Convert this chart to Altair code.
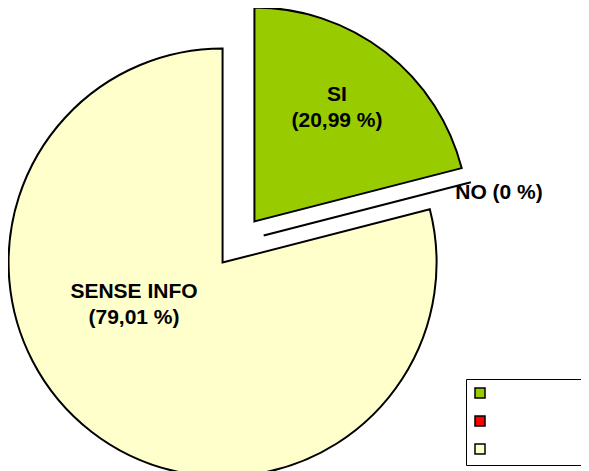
import math
import altair as alt
import pandas as pd

# ---- data ----
categories = ["SI", "NO", "SENSE INFO"]
percent = [20.99, 0.0, 79.01]
pct_text = ["(20,99 %)", "(0 %)", "(79,01 %)"]
colors = ["#99CC00", "#FF0000", "#FFFFCC"]

# ---- layout / style constants ----
W, H = 573, 463            # plot area (px)
RADIUS = 214               # pie radius (px)
CX, CY = 230.5, 234.0      # un-exploded pie centre inside the plot area (px)
EXPLODE = 26 / 214         # explosion as a fraction of the radius
# label anchor (centre of first line) relative to the pie centre, in radii (x right, y up)
label_place = {
    "SI": (0.4603, 0.6855, "\n"),
    "NO": (1.2173, 0.2276, "  "),
    "SENSE INFO": (-0.4883, -0.2322, "\n"),
}

# scale domains expressed in "radius units" so the centre lands at (CX, CY)
x_dom = [-CX / RADIUS, (W - CX) / RADIUS]
y_dom = [-(H - CY) / RADIUS, CY / RADIUS]

rows = []
acc = 0.0
total = sum(percent)
for cat, v, pt in zip(categories, percent, pct_text):
    start = acc / total * 2 * math.pi
    acc += v
    end = acc / total * 2 * math.pi
    mid = (start + end) / 2
    lx, ly, sep = label_place[cat]
    rows.append({
        "cat": cat,
        "value": v,
        "start": start,
        "end": end,
        "cx": EXPLODE * math.sin(mid),
        "cy": EXPLODE * math.cos(mid),
        "lx": lx,
        "ly": ly,
        "label": cat + sep + pt,
    })
df = pd.DataFrame(rows)

xs = alt.Scale(domain=x_dom, nice=False, zero=False)
ys = alt.Scale(domain=y_dom, nice=False, zero=False)

arcs = alt.Chart(df).mark_arc(
    radius=RADIUS, stroke="black", strokeWidth=2, strokeJoin="miter"
).encode(
    x=alt.X("cx:Q", scale=xs, axis=None),
    y=alt.Y("cy:Q", scale=ys, axis=None),
    theta=alt.Theta("start:Q", scale=None),
    theta2=alt.Theta2("end:Q"),
    fill=alt.Fill(
        "cat:N",
        scale=alt.Scale(domain=categories, range=colors),
        sort=categories,
        legend=alt.Legend(
            orient="none", legendX=458, legendY=371, title=None,
            symbolType="square", symbolSize=100,
            symbolStrokeColor="black", symbolStrokeWidth=1.5,
            labelExpr="''", labelFontSize=10, labelOffset=140,
            rowPadding=12, padding=8,
            fillColor="white", strokeColor="black",
        ),
    ),
)

labels = alt.Chart(df).mark_text(
    font="Liberation Sans", fontSize=21, fontWeight="bold", color="black",
    align="center", baseline="middle", lineBreak="\n", lineHeight=26,
).encode(
    x=alt.X("lx:Q", scale=xs, axis=None),
    y=alt.Y("ly:Q", scale=ys, axis=None),
    text="label:N",
)

chart = alt.layer(arcs, labels).properties(
    width=W, height=H, padding=0,
    autosize=alt.AutoSizeParams(type="none"),
    background="white",
).configure_view(stroke=None)

chart.save("out.html", embed_options={"renderer": "svg", "actions": False})
